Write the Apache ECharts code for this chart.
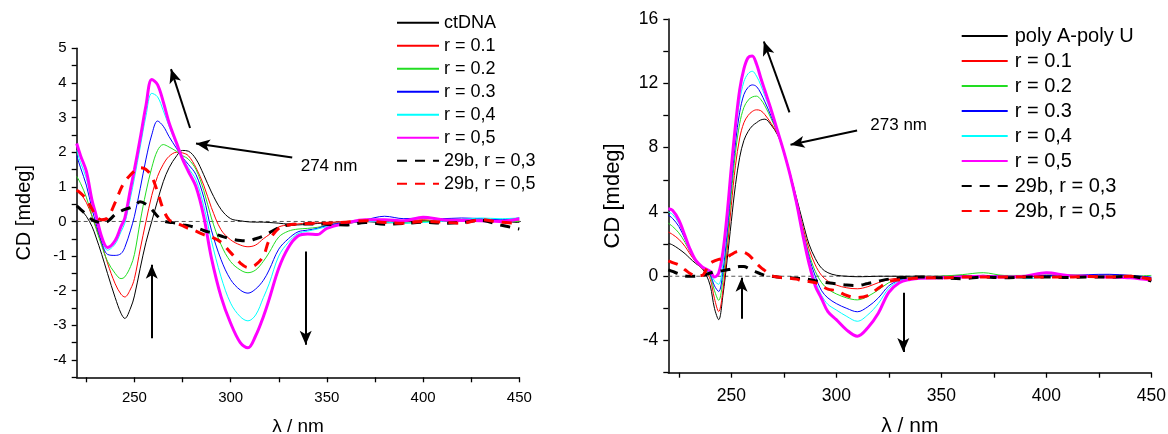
<!DOCTYPE html>
<html><head><meta charset="utf-8">
<script src="https://cdn.jsdelivr.net/npm/echarts@6/dist/echarts.min.js"></script>
<style>html,body{margin:0;padding:0;background:#fff}#c{width:1168px;height:434px}</style>
</head><body><div id="c"></div>
<script>
// ---------- Left panel (ctDNA) ----------
const wlL = [220,222,225,228,230,233,236,240,243,245,248,250,253,256,259,262,265,268,272,275,278,282,286,290,295,300,305,309,313,317,320,325,330,335,340,345,350,360,370,380,390,400,410,420,430,440,450];
const ctDNA   = [0.45,0.35,0.15,-0.15,-0.45,-0.95,-1.5,-2.2,-2.65,-2.8,-2.5,-2.15,-1.35,-0.6,0.0,0.6,1.15,1.55,1.9,2.05,2.03,1.8,1.35,0.85,0.35,0.08,0.02,-0.01,-0.02,-0.02,-0.03,-0.05,-0.08,-0.1,-0.08,-0.06,-0.04,-0.05,0.0,-0.04,-0.02,0.02,0.0,0.03,0.02,0.0,-0.03];
const L_r01   = [0.9,0.8,0.55,0.15,-0.15,-0.65,-1.2,-1.8,-2.1,-2.18,-1.95,-1.65,-0.8,0.0,0.75,1.3,1.65,1.88,2.0,1.98,1.9,1.55,1.05,0.4,-0.24,-0.53,-0.68,-0.73,-0.68,-0.5,-0.38,-0.16,-0.1,-0.07,-0.05,-0.04,-0.03,0.0,0.03,-0.02,0.0,0.05,0.0,0.02,0.05,0.0,0.02];
const L_r02   = [1.3,1.1,0.7,0.15,-0.2,-0.7,-1.15,-1.5,-1.65,-1.6,-1.3,-0.95,0.0,0.85,1.55,2.05,2.22,2.15,2.02,1.9,1.8,1.5,0.9,0.1,-0.67,-1.16,-1.4,-1.48,-1.4,-1.15,-0.9,-0.45,-0.28,-0.22,-0.2,-0.17,-0.12,-0.05,0.02,0.0,-0.05,0.0,0.02,0.04,0.05,0.02,0.0];
const L_r03   = [1.9,1.55,1.05,0.35,-0.05,-0.6,-0.95,-0.98,-0.93,-0.75,-0.25,0.15,0.95,1.8,2.5,2.9,2.75,2.45,2.1,1.85,1.65,1.35,0.7,-0.25,-1.1,-1.68,-1.98,-2.07,-1.95,-1.7,-1.4,-0.8,-0.5,-0.3,-0.25,-0.2,-0.12,-0.02,0.05,0.15,0.08,0.1,0.08,0.1,0.08,0.05,0.1];
const L_r04   = [2.05,1.7,1.25,0.5,0.1,-0.5,-0.83,-0.65,-0.3,-0.05,0.7,1.25,2.15,3.05,3.7,3.6,3.2,2.75,2.2,1.85,1.55,1.2,0.45,-0.55,-1.6,-2.36,-2.75,-2.87,-2.7,-2.2,-1.8,-1.0,-0.6,-0.35,-0.28,-0.22,-0.15,-0.05,0.0,-0.02,-0.05,-0.03,0.0,0.05,0.1,0.08,0.1];
const L_r05   = [2.25,1.9,1.45,0.6,0.2,-0.45,-0.75,-0.55,-0.15,0.1,0.95,1.5,2.4,3.35,4.1,3.95,3.45,2.85,2.25,1.8,1.45,1.0,0.15,-1.05,-2.17,-2.94,-3.5,-3.65,-3.3,-2.75,-2.25,-1.35,-0.75,-0.42,-0.36,-0.38,-0.2,-0.05,0.05,0.05,0.02,0.12,0.05,0.03,0.02,0.0,0.08];
const L_b03   = [0.45,0.35,0.2,0.05,0.0,-0.03,0.0,0.2,0.3,0.35,0.4,0.45,0.57,0.5,0.35,0.15,0.02,-0.02,-0.05,-0.1,-0.12,-0.18,-0.26,-0.33,-0.42,-0.5,-0.55,-0.56,-0.5,-0.42,-0.33,-0.18,-0.1,-0.08,-0.07,-0.07,-0.08,-0.1,-0.03,-0.08,-0.06,-0.02,-0.05,-0.03,0.03,-0.1,-0.22];
const L_b05   = [0.9,0.82,0.65,0.35,0.15,0.05,0.1,0.55,0.95,1.15,1.35,1.45,1.55,1.5,1.3,0.85,0.35,0.05,-0.05,-0.12,-0.2,-0.28,-0.38,-0.45,-0.6,-0.9,-1.2,-1.33,-1.25,-1.0,-0.55,-0.2,-0.1,-0.08,-0.06,-0.05,-0.05,-0.02,0.02,-0.03,-0.05,0.0,-0.02,-0.05,0.05,-0.02,-0.05];

// ---------- Right panel (poly A-poly U) ----------
const wlR = [220,222,225,228,230,233,236,238,240,242,244,246,248,250,252,254,256,258,260,262,264,266,269,272,275,278,281,284,287,290,293,296,300,305,310,315,320,325,330,335,340,350,360,370,380,390,400,410,420,430,440,450];
const polyAU  = [2.05,1.95,1.7,1.4,1.15,0.8,0.5,0.1,-0.6,-2.0,-2.7,-1.2,1.0,3.4,5.7,7.4,8.45,9.0,9.35,9.55,9.72,9.77,9.4,8.8,7.8,6.4,4.9,3.4,2.0,1.1,0.5,0.22,0.06,0.0,-0.03,-0.02,0.0,0.0,0.0,0.0,0.0,0.0,0.02,0.0,0.02,0.0,0.0,0.03,0.0,0.05,0.0,-0.1];
const R_r01   = [2.75,2.6,2.3,1.85,1.45,0.9,0.5,0.25,-0.2,-1.4,-2.2,-0.9,1.6,4.4,6.9,8.6,9.55,10.0,10.25,10.35,10.3,10.05,9.5,8.85,7.75,6.35,4.75,3.1,1.7,0.7,0.05,-0.3,-0.55,-0.72,-0.78,-0.65,-0.4,-0.2,-0.12,-0.1,-0.08,-0.05,0.0,0.05,0.0,0.02,0.0,0.05,0.03,0.08,0.05,-0.1];
const R_r02   = [3.3,3.1,2.7,2.1,1.6,0.95,0.55,0.35,0.0,-0.9,-1.5,-0.2,2.2,5.1,7.7,9.5,10.5,10.95,11.15,11.2,11.0,10.6,9.8,8.9,7.7,6.3,4.65,2.9,1.4,0.3,-0.4,-0.8,-1.1,-1.35,-1.47,-1.25,-0.85,-0.4,-0.18,-0.1,-0.05,0.0,0.1,0.22,0.05,0.05,0.08,0.1,0.05,0.05,0.0,0.05];
const R_r03   = [3.8,3.6,3.1,2.3,1.7,0.95,0.6,0.4,0.1,-0.6,-0.95,0.3,2.7,5.7,8.3,10.2,11.3,11.75,11.9,11.8,11.4,10.85,9.95,8.95,7.7,6.25,4.55,2.8,1.2,0.0,-0.9,-1.35,-1.7,-2.0,-2.21,-1.9,-1.35,-0.6,-0.25,-0.15,-0.1,-0.05,0.0,0.05,0.0,-0.02,0.05,0.02,0.1,0.12,0.05,-0.05];
const R_r04   = [4.0,3.85,3.3,2.4,1.75,1.0,0.6,0.4,0.2,-0.3,-0.5,0.8,3.2,6.2,8.9,10.9,12.1,12.6,12.75,12.45,11.9,11.2,10.2,9.0,7.7,6.2,4.45,2.7,1.0,-0.3,-1.2,-1.75,-2.1,-2.5,-2.8,-2.4,-1.7,-0.75,-0.3,-0.15,-0.12,-0.08,-0.05,0.0,0.0,-0.15,-0.05,0.05,0.0,0.0,-0.05,-0.15];
const R_r05   = [4.2,4.1,3.5,2.5,1.8,1.0,0.6,0.45,0.3,-0.05,0.2,1.5,3.85,6.75,9.4,11.6,12.9,13.6,13.7,13.2,12.35,11.55,10.35,9.05,7.75,6.3,4.6,2.6,0.8,-0.6,-1.4,-2.2,-2.7,-3.35,-3.73,-3.2,-2.3,-1.0,-0.4,-0.2,-0.12,-0.1,-0.05,0.0,-0.05,0.0,0.22,0.05,0.0,-0.05,-0.1,-0.25];
const R_b03   = [0.4,0.3,0.15,0.02,0.0,0.0,0.05,0.1,0.2,0.28,0.3,0.35,0.4,0.45,0.55,0.6,0.6,0.5,0.35,0.25,0.15,0.05,0.0,-0.05,-0.08,-0.1,-0.12,-0.15,-0.2,-0.28,-0.35,-0.41,-0.48,-0.55,-0.58,-0.45,-0.31,-0.18,-0.1,-0.05,-0.05,-0.1,-0.15,-0.05,-0.1,-0.05,-0.05,-0.08,-0.05,-0.05,0.0,-0.3];
const R_b05   = [0.95,0.85,0.7,0.4,0.2,0.05,0.05,0.4,0.8,0.95,1.05,1.1,1.2,1.35,1.5,1.55,1.5,1.35,1.1,0.8,0.55,0.35,0.05,-0.05,-0.1,-0.12,-0.18,-0.3,-0.33,-0.4,-0.6,-0.8,-0.9,-1.2,-1.33,-1.2,-0.75,-0.35,-0.22,-0.15,-0.1,-0.1,-0.05,-0.05,-0.05,-0.05,-0.05,-0.05,-0.02,-0.05,0.0,-0.2];

// ---------- Names / ticks ----------
const namesL = ['ctDNA','r = 0.1','r = 0.2','r = 0.3','r = 0,4','r = 0,5','29b, r = 0,3','29b, r = 0,5'];
const namesR = ['poly A-poly U','r = 0.1','r = 0.2','r = 0.3','r = 0,4','r = 0,5','29b, r = 0,3','29b, r = 0,5'];
const xTickVals  = [225,250,275,300,325,350,375,400,425,450];
const xLabelVals = [250,300,350,400,450];
const yTickL  = [-4.5,-4,-3.5,-3,-2.5,-2,-1.5,-1,-0.5,0,0.5,1,1.5,2,2.5,3,3.5,4,4.5,5];
const yLabelL = [-4,-3,-2,-1,0,1,2,3,4,5];
const yTickR  = [-6,-4,-2,0,2,4,6,8,10,12,14,16];
const yLabelR = [-4,0,4,8,12,16];
const zeroSpanL = [220,459];
const zeroSpanR = [220,450];

const styles = [
  {color:'#000000', width:1, type:'solid'},
  {color:'#ff0000', width:1, type:'solid'},
  {color:'#22dd22', width:1, type:'solid'},
  {color:'#0000ff', width:1, type:'solid'},
  {color:'#00ffff', width:1, type:'solid'},
  {color:'#ff00ff', width:3, type:'solid'},
  {color:'#000000', width:3, type:[10,8]},
  {color:'#ff0000', width:3, type:[10,8]}
];

const FONT = "'Liberation Sans', Arial, sans-serif";
const pair = (xs, ys) => xs.map((x,i)=>[x, ys[i]]);

function mkSeries(idx, names, wl, arrays){
  return arrays.map((arr,k)=>({
    type:'line', name:names[k], xAxisIndex:idx, yAxisIndex:idx,
    data:pair(wl, arr), showSymbol:false, symbol:'none', smooth:0.35,
    lineStyle:{color:styles[k].color, width:styles[k].width, type:styles[k].type},
    itemStyle:{color:styles[k].color}, z: 2+k
  }));
}

function annSeries(idx, span, arrows, text){
  return {
    type:'line', name:'_zero'+idx, xAxisIndex:idx, yAxisIndex:idx, clip:false,
    data:span.map(x=>[x,0]), showSymbol:false, symbol:'none', silent:true, z:1,
    lineStyle:{color:'#555', width:1, type:[4,3]},
    markLine:{
      silent:true, symbol:['none','arrow'], symbolSize:[9,14], animation:false,
      label:{show:false}, lineStyle:{color:'#000', width:2, type:'solid'},
      emphasis:{disabled:true},
      data: arrows.map(a=>[{coord:a[0]},{coord:a[1]}])
    },
    markPoint:{
      silent:true, symbol:'circle', symbolSize:0, animation:false,
      label:{show:true, position:'right', distance:0, formatter:text.label, color:'#000', fontSize:17, fontFamily:FONT},
      data:[{coord:text.at}]
    }
  };
}

const arrowsL = [
  [[332,1.85],[282,2.25]],
  [[278.9,2.7],[269,4.4]],
  [[259,-3.37],[259,-1.25]],
  [[339,-0.87],[339,-3.56]]
];
const arrowsR = [
  [[309.9,9.07],[278.2,8.18]],
  [[277.7,10.19],[265.5,14.6]],
  [[254.9,-2.65],[254.9,-0.1]],
  [[331.9,-1.03],[331.9,-4.72]]
];

function xAx(idx, fs, gap, nfs, lm){
  return {
    type:'value', gridIndex:idx, min:220, max:450,
    axisLine:{onZero:false, lineStyle:{color:'#000', width:1.5}},
    axisTick:{show:true, inside:false, length:5, customValues:xTickVals, lineStyle:{color:'#000', width:1.3}},
    axisLabel:{customValues:xLabelVals, color:'#000', fontSize:fs, fontFamily:FONT, margin:lm},
    splitLine:{show:false},
    name:'λ / nm', nameLocation:'middle', nameGap:gap, nameMoveOverlap:false,
    nameTextStyle:{color:'#000', fontSize:nfs, fontFamily:FONT}
  };
}
function yAx(idx, min, max, ticks, labels, fs, gap, nfs){
  return {
    type:'value', gridIndex:idx, min:min, max:max,
    axisLine:{show:true, onZero:false, lineStyle:{color:'#000', width:1.5}},
    axisTick:{show:true, inside:false, length:5, customValues:ticks, lineStyle:{color:'#000', width:1.3}},
    axisLabel:{customValues:labels, color:'#000', fontSize:fs, fontFamily:FONT, margin:10},
    splitLine:{show:false},
    name:'CD [mdeg]', nameLocation:'middle', nameGap:gap, nameRotate:90, nameMoveOverlap:false,
    nameTextStyle:{color:'#000', fontSize:nfs, fontFamily:FONT}
  };
}

const option = {
  animation:false,
  backgroundColor:'#fff',
  grid:[
    {left:76.7, right:648.7, top:48.3, bottom:56.7, outerBoundsMode:'none', containLabel:false},
    {left:668.3, right:16.7, top:19, bottom:61.3, outerBoundsMode:'none', containLabel:false}
  ],
  xAxis:[ xAx(0,15,39.5,19,13), xAx(1,17.5,43,21,14) ],
  yAxis:[ yAx(0,-4.5,5,yTickL,yLabelL,15,42,20), yAx(1,-6,16,yTickR,yLabelR,17.5,44,22) ],
  legend:[
    {data:namesL, orient:'vertical', left:396, top:12.7, padding:0, itemWidth:42, itemHeight:14, itemGap:3,
     selectedMode:false, itemStyle:{opacity:0},
     textStyle:{color:'#000', fontSize:18, lineHeight:20, fontFamily:FONT}},
    {data:namesR, orient:'vertical', left:960.7, top:25, padding:0, itemWidth:46, itemHeight:14, itemGap:3,
     selectedMode:false, itemStyle:{opacity:0},
     textStyle:{color:'#000', fontSize:20, lineHeight:22, fontFamily:FONT, padding:[0,0,0,2]}}
  ],
  series:[
    annSeries(0, zeroSpanL, arrowsL, {label:'274 nm', at:[336.4,1.6]}),
    ...mkSeries(0, namesL, wlL, [ctDNA,L_r01,L_r02,L_r03,L_r04,L_r05,L_b03,L_b05]),
    annSeries(1, zeroSpanR, arrowsR, {label:'273 nm', at:[316.2,9.4]}),
    ...mkSeries(1, namesR, wlR, [polyAU,R_r01,R_r02,R_r03,R_r04,R_r05,R_b03,R_b05])
  ]
};
const chart = echarts.init(document.getElementById('c'), null, {renderer:'canvas'});
chart.setOption(option);
</script>
</body></html>
